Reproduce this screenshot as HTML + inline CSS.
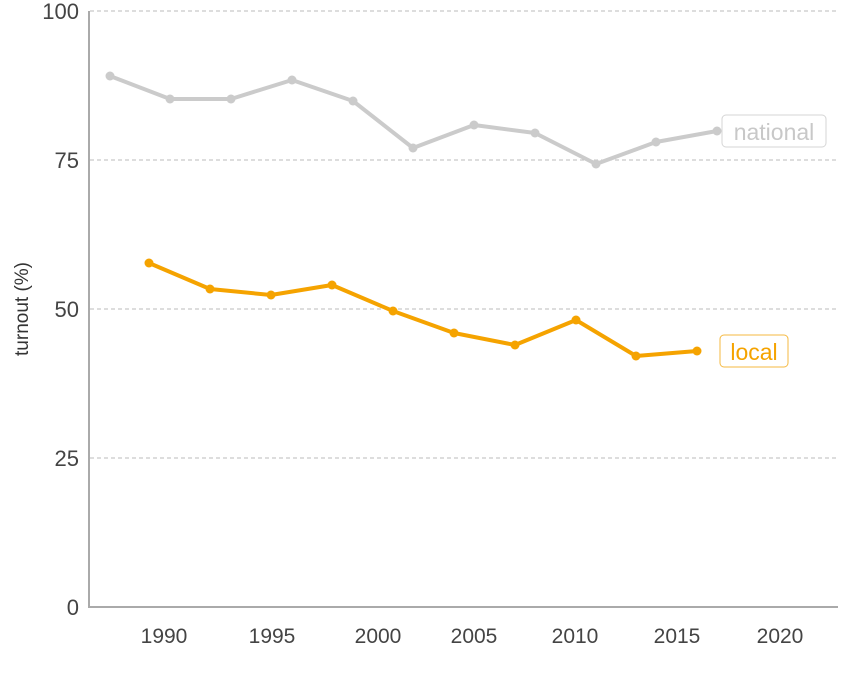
<!DOCTYPE html>
<html><head><style>body{margin:0;background:#fff}svg{display:block}text{font-family:"Liberation Sans",sans-serif}</style></head>
<body>
<svg width="850" height="679" viewBox="0 0 850 679">
<g stroke="#bbb" stroke-width="1" stroke-dasharray="4,3">
<line x1="90" y1="11" x2="838" y2="11"/><line x1="90" y1="160" x2="838" y2="160"/>
<line x1="90" y1="309" x2="838" y2="309"/><line x1="90" y1="458" x2="838" y2="458"/>
</g>
<line x1="89" y1="11" x2="89" y2="607" stroke="#aaa" stroke-width="2"/>
<line x1="88" y1="607" x2="838" y2="607" stroke="#aaa" stroke-width="2"/>
<g font-size="22" fill="#444" text-anchor="end">
<text x="79" y="19">100</text><text x="79" y="168">75</text><text x="79" y="317">50</text><text x="79" y="466">25</text><text x="79" y="615">0</text>
</g>
<g font-size="21" fill="#444" text-anchor="middle">
<text x="164" y="643">1990</text><text x="272" y="643">1995</text><text x="378" y="643">2000</text><text x="474" y="643">2005</text><text x="575" y="643">2010</text><text x="677" y="643">2015</text><text x="780" y="643">2020</text>
</g>
<text transform="translate(28,309) rotate(-90)" font-size="19" fill="#333" text-anchor="middle">turnout (%)</text>
<polyline fill="none" stroke="#cbcbcb" stroke-width="4" stroke-linejoin="round" points="110,76 170,99 231,99 292,80 353,101 413,148 474,125 535,133 596,164 656,142 717,131"/>
<g fill="#cbcbcb"><circle cx="110" cy="76" r="4.5"/><circle cx="170" cy="99" r="4.5"/><circle cx="231" cy="99" r="4.5"/><circle cx="292" cy="80" r="4.5"/><circle cx="353" cy="101" r="4.5"/><circle cx="413" cy="148" r="4.5"/><circle cx="474" cy="125" r="4.5"/><circle cx="535" cy="133" r="4.5"/><circle cx="596" cy="164" r="4.5"/><circle cx="656" cy="142" r="4.5"/><circle cx="717" cy="131" r="4.5"/></g>
<polyline fill="none" stroke="#f5a300" stroke-width="4" stroke-linejoin="round" points="149,263 210,289 271,295 332,285 393,311 454,333 515,345 576,320 636,356 697,351"/>
<g fill="#f5a300"><circle cx="149" cy="263" r="4.5"/><circle cx="210" cy="289" r="4.5"/><circle cx="271" cy="295" r="4.5"/><circle cx="332" cy="285" r="4.5"/><circle cx="393" cy="311" r="4.5"/><circle cx="454" cy="333" r="4.5"/><circle cx="515" cy="345" r="4.5"/><circle cx="576" cy="320" r="4.5"/><circle cx="636" cy="356" r="4.5"/><circle cx="697" cy="351" r="4.5"/></g>
<rect x="722" y="115" width="104" height="32" rx="4" fill="#fff" stroke="#d5d5d5"/>
<text x="774" y="140" font-size="23" fill="#c8c8c8" text-anchor="middle">national</text>
<rect x="720" y="335" width="68" height="32" rx="4" fill="#fff" stroke="#f5b940"/>
<text x="754" y="360" font-size="23" fill="#f5a300" text-anchor="middle">local</text>
</svg>
</body></html>
